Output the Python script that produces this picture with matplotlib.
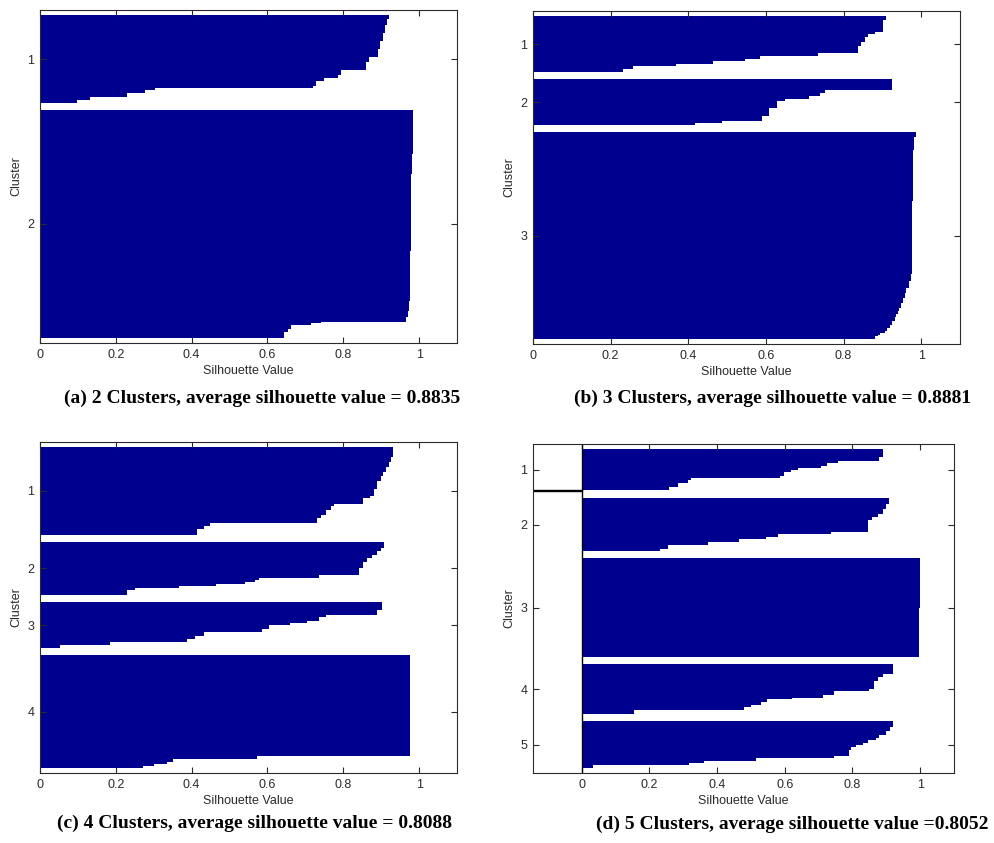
import matplotlib.pyplot as plt

# silhouette values per cluster (sorted high -> low) and how many rows sit at each value
vals_k2 = [
    [0.921, 0.916, 0.910, 0.904, 0.898, 0.892, 0.869, 0.860, 0.794, 0.785, 0.750, 0.728, 0.719,
     0.304, 0.278, 0.229, 0.132, 0.097],
    [0.984, 0.983, 0.980, 0.978, 0.976, 0.973, 0.970, 0.965, 0.741, 0.714, 0.661, 0.653, 0.644],
]
rows_k2 = [
    [4, 6, 8, 8, 8, 8, 5, 8, 5, 3, 3, 5, 2, 2, 3, 4, 3, 3],
    [20, 24, 20, 77, 50, 10, 6, 5, 1, 2, 4, 3, 6],
]

vals_k3 = [
    [0.910, 0.902, 0.880, 0.863, 0.855, 0.845, 0.838, 0.735, 0.584, 0.546, 0.464, 0.369, 0.258, 0.232],
    [0.925, 0.753, 0.739, 0.710, 0.650, 0.628, 0.607, 0.590, 0.487, 0.418],
    [0.986, 0.982, 0.979, 0.977, 0.973, 0.968, 0.962, 0.958, 0.953, 0.949, 0.944, 0.940, 0.936,
     0.932, 0.925, 0.919, 0.912, 0.906, 0.895, 0.889, 0.880],
]
rows_k3 = [
    [4, 12, 2, 3, 5, 4, 7, 3, 3, 2, 3, 2, 3, 3],
    [11, 3, 3, 3, 2, 7, 8, 5, 2, 2],
    [5, 13, 50, 73, 7, 7, 5, 5, 5, 5, 3, 3, 3, 4, 4, 3, 3, 2, 2, 1, 3],
]

vals_k4 = [
    [0.930, 0.925, 0.920, 0.913, 0.905, 0.899, 0.888, 0.881, 0.870, 0.851, 0.776, 0.767, 0.754,
     0.740, 0.731, 0.449, 0.432, 0.414],
    [0.908, 0.900, 0.890, 0.875, 0.863, 0.851, 0.841, 0.736, 0.578, 0.568, 0.542, 0.463, 0.366,
     0.251, 0.229],
    [0.903, 0.890, 0.755, 0.736, 0.705, 0.660, 0.605, 0.586, 0.432, 0.410, 0.388, 0.185, 0.053],
    [0.977, 0.976, 0.573, 0.352, 0.335, 0.300, 0.273],
]
rows_k4 = [
    [10, 5, 5, 5, 4, 5, 8, 7, 2, 6, 2, 4, 5, 3, 5, 2, 3, 6],
    [6, 3, 4, 3, 4, 6, 7, 3, 2, 2, 2, 2, 2, 2, 5],
    [8, 5, 2, 4, 2, 2, 4, 3, 4, 3, 3, 3, 3],
    [60, 40, 3, 3, 2, 2, 2],
]

vals_k5 = [
    [0.889, 0.879, 0.756, 0.726, 0.707, 0.640, 0.618, 0.598, 0.585, 0.323, 0.313, 0.283, 0.259, -0.144],
    [0.908, 0.899, 0.890, 0.875, 0.859, 0.845, 0.736, 0.579, 0.544, 0.466, 0.372, 0.254, 0.232],
    [0.999, 0.998],
    [0.920, 0.889, 0.874, 0.864, 0.850, 0.746, 0.712, 0.620, 0.547, 0.530, 0.500, 0.478, 0.155],
    [0.920, 0.910, 0.900, 0.879, 0.869, 0.845, 0.830, 0.810, 0.795, 0.790, 0.746, 0.515, 0.362,
     0.318, 0.032],
]
rows_k5 = [
    [8, 4, 2, 3, 2, 2, 2, 4, 2, 2, 3, 4, 3, 1],
    [6, 5, 5, 3, 3, 12, 2, 3, 2, 3, 3, 4, 2],
    [50, 49],
    [10, 3, 4, 8, 2, 4, 3, 1, 3, 3, 2, 3, 4],
    [6, 4, 4, 3, 2, 3, 2, 2, 3, 6, 2, 3, 2, 2, 3],
]

captions = [
    "(a) 2 Clusters, average silhouette value = 0.8835",
    "(b) 3 Clusters, average silhouette value = 0.8881",
    "(c) 4 Clusters, average silhouette value = 0.8088",
    "(d) 5 Clusters, average silhouette value =0.8052",
]

W, H = 995, 843
BAR = '#00008F'
INK = '#2a2a2a'
GAP = 7
PAD = 5

plt.rcParams['font.family'] = ['Liberation Sans', 'DejaVu Sans']

fig = plt.figure(figsize=(W / 100, H / 100), dpi=100)


def px_axes(l, t, r, b):
    return fig.add_axes([l / W, 1 - b / H, (r - l) / W, (b - t) / H])


def silhouette(ax, vals, rows):
    y = PAD
    centers = []
    for cv, cr in zip(vals, rows):
        start = y
        for v, n in zip(cv, cr):
            ax.barh(y, v, height=n, align='edge', color=BAR,
                    edgecolor='black' if v < 0 else 'none', linewidth=1.0)
            y += n
        centers.append((start + y) / 2)
        y += GAP
    total = y - GAP + PAD
    lo = min(0, min(min(c) for c in vals))
    ax.set_xlim(lo, 1.1)
    ax.set_ylim(total, 0)
    if lo < 0:
        ax.axvline(0, color='black', lw=1.0)
    ax.set_yticks(centers)
    ax.set_yticklabels([str(i + 1) for i in range(len(vals))])
    ax.set_xticks([0, 0.2, 0.4, 0.6, 0.8, 1])
    ax.set_xticklabels(['0', '0.2', '0.4', '0.6', '0.8', '1'])
    ax.tick_params(direction='in', top=True, right=True, length=4, width=0.8,
                   color=INK, labelcolor=INK, labelsize=9, pad=4)
    for s in ax.spines.values():
        s.set_color(INK)
        s.set_linewidth(0.8)
    ax.set_xlabel('Silhouette Value', fontsize=9, color=INK, labelpad=3)
    ax.set_ylabel('Cluster', fontsize=9, color=INK, labelpad=4)


boxes = [(40, 10, 457, 343), (533, 11, 960, 344), (40, 442, 457, 773), (533, 444, 954, 773)]
data = [(vals_k2, rows_k2), (vals_k3, rows_k3), (vals_k4, rows_k4), (vals_k5, rows_k5)]
cap_pos = [(262, 398), (773, 398), (255, 823), (792, 824)]

for box, (v, r), cap, (cx, cy) in zip(boxes, data, captions, cap_pos):
    ax = px_axes(*box)
    silhouette(ax, v, r)
    fig.text(cx / W, 1 - cy / H, cap, ha='center', va='center', fontsize=14,
             fontweight='bold', family=['Liberation Serif', 'DejaVu Serif'], color='black')

fig.savefig('out.png', dpi=100)
